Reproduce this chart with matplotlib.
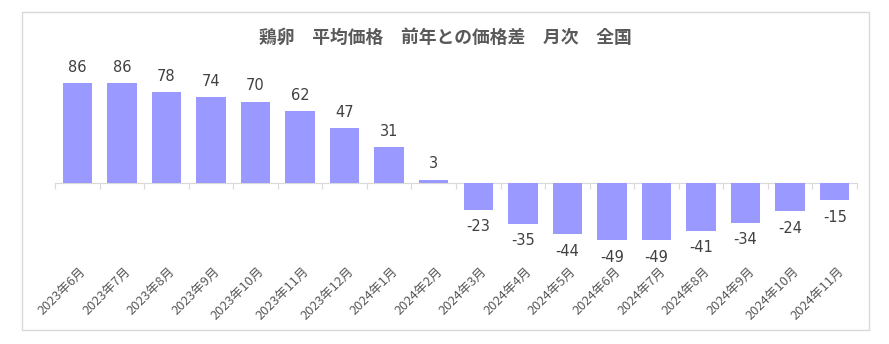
import matplotlib

matplotlib.use("Agg")

import matplotlib.pyplot as plt
import matplotlib.transforms as mtransforms
from matplotlib.patches import Rectangle

plt.rcParams["font.family"] = ["Noto Sans CJK JP", "DejaVu Sans"]

# Data
months = [
    "2023年6月", "2023年7月", "2023年8月", "2023年9月", "2023年10月", "2023年11月",
    "2023年12月", "2024年1月", "2024年2月", "2024年3月", "2024年4月", "2024年5月",
    "2024年6月", "2024年7月", "2024年8月", "2024年9月", "2024年10月", "2024年11月",
]
price_diff = [86, 86, 78, 74, 70, 62, 47, 31, 3, -23, -35, -44, -49, -49, -41, -34, -24, -15]

title = "鶏卵　平均価格　前年との価格差　月次　全国"

bar_color = "#9999FF"
grid_gray = "#D9D9D9"
text_gray = "#595959"

W, H = 889, 344
fig = plt.figure(figsize=(W / 100, H / 100), dpi=100)

# Outer chart border
fig.patches.append(Rectangle((22 / W, 1 - 330 / H), (869 - 22) / W, (330 - 12) / H,
                             transform=fig.transFigure, fill=False,
                             edgecolor=grid_gray, linewidth=1.0))

ax = fig.add_axes([55 / W, 1 - 252.8 / H, 802 / W, (252.8 - 66.7) / H])
x = list(range(len(months)))
ax.bar(x, price_diff, width=0.66, color=bar_color, zorder=2)
ax.set_xlim(-0.5, len(months) - 0.5)
ax.set_ylim(-60, 100)

for s in ["top", "right", "left"]:
    ax.spines[s].set_visible(False)
ax.spines["bottom"].set_position(("data", 0))
ax.spines["bottom"].set_color(grid_gray)
ax.spines["bottom"].set_zorder(1)
ax.set_yticks([])
ax.set_xticks([i - 0.5 for i in range(len(months) + 1)])
ax.set_xticklabels([])
ax.tick_params(axis="x", length=4, color=grid_gray, direction="out")

# Category labels along the bottom of the plot area
trans = mtransforms.blended_transform_factory(ax.transData, ax.transAxes)
for i, lab in enumerate(months):
    ax.text(i + 0.05, -0.065, lab, transform=trans, rotation=45, ha="right", va="top",
            rotation_mode="anchor", fontsize=9.3, color=text_gray)

# Value labels
for i, v in enumerate(price_diff):
    if v >= 0:
        ax.annotate(str(v), (i, v), xytext=(0, 6), textcoords="offset points",
                    ha="center", va="bottom", fontsize=10.5, color="#404040",
                    family="DejaVu Sans")
    else:
        ax.annotate(str(v), (i, v), xytext=(0, -7), textcoords="offset points",
                    ha="center", va="top", fontsize=10.5, color="#404040",
                    family="DejaVu Sans")

fig.text(445 / W, 1 - 38 / H, title, ha="center", va="center", fontsize=12.8,
         fontweight="bold", color=text_gray)

fig.savefig("out.png", dpi=100)
plt.close(fig)
